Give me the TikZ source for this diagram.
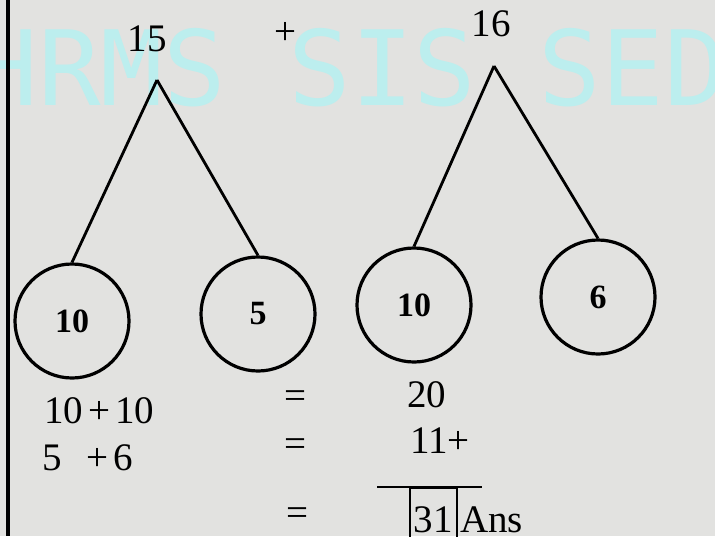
\documentclass[tikz,border=0pt]{standalone}
\usepackage{fontspec}
\setmainfont{Liberation Serif}
\newfontfamily\wmfont{DejaVu Sans Mono}
\usetikzlibrary{positioning}
\definecolor{paper}{RGB}{226,226,224}
\definecolor{wmcyan}{RGB}{188,238,238}

\begin{document}
\begin{tikzpicture}[x=0.5pt,y=-0.5pt,
num/.style={font=\fontsize{19.5}{23}\selectfont,inner sep=0pt},
ball/.style={draw,circle,line width=1.6pt,minimum size=57pt,inner sep=0pt,font=\fontsize{17}{20}\selectfont\bfseries},
branch/.style={line width=1.4pt}]
\clip (0,0) rectangle (715,536);
\fill[paper] (0,0) rectangle (715,536);
% watermark
\node[anchor=west,inner sep=0pt,text=wmcyan,font=\fontsize{52}{60}\wmfont] (wm) at (-25,68) {HRMS SIS SED};
\draw[line width=2pt] (8,0) -- (8,536);
% the two numbers and their splits
\coordinate (topL) at (157,80);
\coordinate (topR) at (494,66);
\node[num] (n15) at (147,39) {15};
\node[num] (plus) at (285,33) {+};
\node[num] (n16) at (491,24) {16};
\node[ball] (c1) at (72,321) {10};
\node[ball] (c2) at (258,314) {5};
\node[ball] (c3) at (414,305) {10};
\node[ball] (c4) at (598,297) {6};
\draw[branch] (topL) -- (c1.north);
\draw[branch] (topL) -- (c2.north);
\draw[branch] (topR) -- (c3.north);
\draw[branch] (topR) -- (c4.north);
% working
\node[num,anchor=west] (sum1) at (44,411) {10\hspace{2.5pt}+\hspace{2.5pt}10};
\node[num,anchor=west] (sum2) at (42,458) {5\phantom{0}\hspace{2.5pt}+\hspace{2.5pt}6};
\node[num] (eq1) at (295,400) {=};
\node[num] (eq2) at (295,448) {=};
\node[num] (eq3) at (297,517) {=};
\node[num,anchor=west] (r1) at (407,395) {20};
\node[num,anchor=west] (r2) at (410,441) {11+};
\draw[line width=1pt] (377,487) -- (482,487);
\node[num,draw,line width=0.8pt,inner xsep=2pt,minimum height=32pt,anchor=north west] (total) at (409,487) {31};
\node[num,right=1pt of total] (ans) {Ans};
\end{tikzpicture}
\end{document}
